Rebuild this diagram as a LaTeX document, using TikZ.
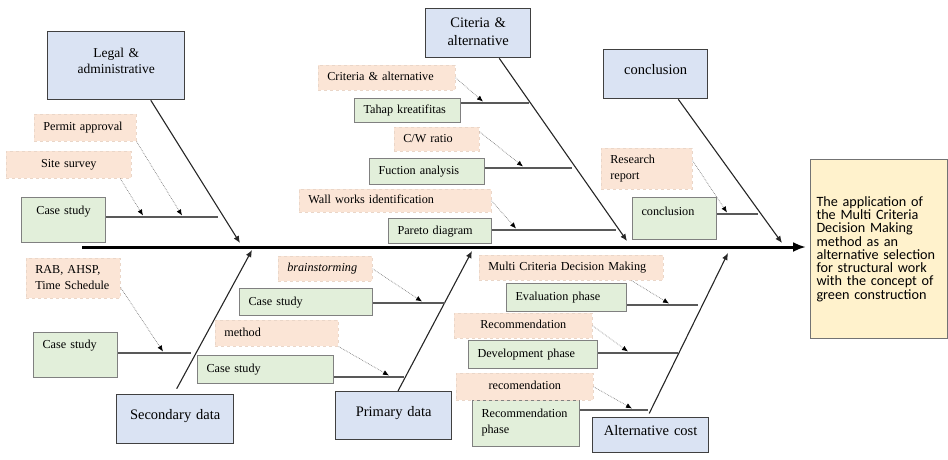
\documentclass[tikz,border=0pt]{standalone}
\usepackage{fontspec}
\setmainfont{Liberation Serif}
\newfontfamily\timesf{Liberation Serif}
\newfontfamily\carlito{Carlito}
\usetikzlibrary{arrows.meta}
\definecolor{headblue}{HTML}{DAE3F3}
\definecolor{subgreen}{HTML}{E2EFDA}
\definecolor{notepink}{HTML}{FBE5D6}
\definecolor{notepinkline}{HTML}{EAD6C8}
\definecolor{effectyellow}{HTML}{FFF2CC}
\tikzset{
  basebox/.style={anchor=north west, inner xsep=9pt, inner ysep=3pt, align=left,
    text height=9pt, text depth=3pt, font=\timesf\fontsize{12.2}{16}\selectfont},
  headbox/.style={basebox, fill=headblue, draw=black!75, line width=1.3pt, align=center,
    inner xsep=4pt, text height=11pt, text depth=10pt, font=\timesf\fontsize{14.5}{16}\selectfont},
  subbox/.style={basebox, fill=subgreen, draw=black!50, line width=1pt},
  notebox/.style={basebox, fill=notepink, draw=notepinkline, dashed, line width=0.6pt},
  effectbox/.style={anchor=north west, fill=effectyellow, draw=black!55, line width=1pt,
    inner xsep=6pt, align=left, font=\carlito\fontsize{14.2}{13.3}\selectfont},
  spine/.style={-{Latex[length=13pt,width=10pt]}, line width=3pt},
  bone/.style={-{Latex[length=7pt,width=6pt]}, line width=1.1pt, black!85},
  twig/.style={line width=1.4pt, black!65},
  hint/.style={-{Latex[length=6pt,width=5pt,color=black]}, densely dotted, line width=0.7pt, black!50}
}

\begin{document}
\begin{tikzpicture}[x=1pt,y=-1pt]
  \useasboundingbox (0,0) rectangle (948,459);

  \node[headbox, text width=129pt, minimum height=68pt, text depth=27pt,
    font=\timesf\fontsize{13.5}{16}\selectfont] (legal) at (47,31) {Legal \&\\administrative};
  \node[headbox, text width=97pt, minimum height=49pt, text depth=22pt,
    font=\timesf\fontsize{14.5}{18}\selectfont] (crit) at (425,8) {Citeria \&\\alternative};
  \node[headbox, text width=96pt, minimum height=49pt] (concl) at (603,49) {conclusion};
  \node[headbox, text width=109pt, minimum height=49pt] (second) at (116,394) {Secondary data};
  \node[headbox, text width=108pt, minimum height=48pt] (prim) at (335,391) {Primary data};
  \node[headbox, text width=108pt, minimum height=35pt] (altc) at (592,417) {Alternative cost};

  \node[effectbox, text width=125pt, minimum height=179pt] (effect) at (810,159)
    {The application of\\the Multi Criteria\\Decision Making\\method as an\\alternative selection\\for structural work\\with the concept of\\green construction};

  \node[subbox, text width=66pt, minimum height=45pt, align=center, text height=14pt, text depth=25pt] (caseLeg) at (21,197) {Case study};
  \node[subbox, text width=88pt, minimum height=24pt] (tahap) at (354,98) {Tahap kreatifitas};
  \node[subbox, text width=97pt, minimum height=26pt] (fuction) at (369,158) {Fuction analysis};
  \node[subbox, text width=85pt, minimum height=25pt] (pareto) at (388,218) {Pareto diagram};
  \node[subbox, text width=66pt, minimum height=42pt, text height=15pt, text depth=21pt] (conclSub) at (632,197) {conclusion};
  \node[subbox, text width=66pt, minimum height=45pt, text height=13pt, text depth=26pt] (caseSec) at (33,332) {Case study};
  \node[subbox, text width=115pt, minimum height=27pt] (caseBrain) at (239,288) {Case study};
  \node[subbox, text width=118pt, minimum height=28pt] (caseMeth) at (197,355) {Case study};
  \node[subbox, text width=102pt, minimum height=28pt] (evalPh) at (506,283) {Evaluation phase};
  \node[subbox, text width=111pt, minimum height=28pt] (devPh) at (468,340) {Development phase};
  \node[subbox, text width=89pt, minimum height=46pt, text height=14pt, text depth=26pt] (recPh) at (472,400) {Recommendation\\phase};

  \node[notebox, text width=84pt, minimum height=27pt] (permit) at (34,114) {Permit approval};
  \node[notebox, text width=107pt, minimum height=27pt, align=center] (site) at (6,151) {Site survey};
  \node[notebox, text width=119pt, minimum height=25pt] (critAlt) at (318,65) {Criteria \& alternative};
  \node[notebox, text width=67pt, minimum height=24pt] (cw) at (394,127) {C/W ratio};
  \node[notebox, text width=174pt, minimum height=23pt] (wall) at (299,189) {Wall works identification};
  \node[notebox, text width=73pt, minimum height=41pt, text depth=19pt] (research) at (601,148) {Research\\report};
  \node[notebox, text width=76pt, minimum height=40pt, text depth=18pt] (rab) at (26,258) {RAB, AHSP,\\Time Schedule};
  \node[notebox, text width=76pt, minimum height=25pt, font=\timesf\fontsize{12.2}{16}\selectfont\itshape] (brain) at (278,256) {brainstorming};
  \node[notebox, text width=105pt, minimum height=26pt] (method) at (215,320) {method};
  \node[notebox, text width=166pt, minimum height=25pt] (mcdm) at (479,255) {Multi Criteria Decision Making};
  \node[notebox, text width=120pt, minimum height=25pt, align=center] (recom) at (454,313) {Recommendation};
  \node[notebox, text width=119pt, minimum height=27pt, align=center] (recom2) at (456,373) {recomendation};

  \coordinate (tail) at (82,247);
  \coordinate (sLegal) at (240,243);
  \coordinate (sCrit) at (627,241);
  \coordinate (sConcl) at (782,243);
  \coordinate (sSec) at (252,250);
  \coordinate (sPrim) at (472,251);
  \coordinate (sAlt) at (728,253);

  \coordinate (twLeg) at (218,217);
  \coordinate (twTahap) at (529,103);
  \coordinate (twFuc) at (572,168);
  \coordinate (twPar) at (616,230);
  \coordinate (twConcl) at (758,214);
  \coordinate (twSec) at (191,353);
  \coordinate (twBrain) at (445,303);
  \coordinate (twMeth) at (404,377);
  \coordinate (twEval) at (698,305);
  \coordinate (twDev) at (678,353);
  \coordinate (twRec) at (648,410);

  \coordinate (hPermit) at (182,215.5);
  \coordinate (hSite) at (143,215.5);
  \coordinate (hCrit) at (483,101.5);
  \coordinate (hCw) at (523,166.5);
  \coordinate (hWall) at (516,228.5);
  \coordinate (hRes) at (727,212.5);
  \coordinate (hRab) at (163,351.5);
  \coordinate (hBrain) at (422,301.5);
  \coordinate (hMeth) at (389,375.5);
  \coordinate (hMcdm) at (669,303.5);
  \coordinate (hRec) at (628,351.5);
  \coordinate (hRec2) at (632,408.5);

  \draw[spine, shorten >=4pt] (tail) to (tail -| effect.west);

  \draw[bone] (legal.-45) to (sLegal);
  \draw[bone] (crit.-50) to (sCrit);
  \draw[bone] (concl.-48) to (sConcl);
  \draw[bone, shorten <=6pt] (second.93) to (sSec);
  \draw[bone] (prim.80) to (sPrim);
  \draw[bone, shorten <=4pt] (altc.100) to (sAlt);

  \draw[twig] (caseLeg.east |- twLeg) to (twLeg);
  \draw[twig] (tahap.east |- twTahap) to (twTahap);
  \draw[twig] (fuction.east |- twFuc) to (twFuc);
  \draw[twig] (pareto.east |- twPar) to (twPar);
  \draw[twig] (conclSub.east |- twConcl) to (twConcl);
  \draw[twig] (caseSec.east |- twSec) to (twSec);
  \draw[twig] (caseBrain.east |- twBrain) to (twBrain);
  \draw[twig] (caseMeth.east |- twMeth) to (twMeth);
  \draw[twig] (evalPh.east |- twEval) to (twEval);
  \draw[twig] (devPh.east |- twDev) to (twDev);
  \draw[twig] (recPh.east |- twRec) to (twRec);

  \draw[hint] (permit.south east) to (hPermit);
  \draw[hint] (site.-15) to (hSite);
  \draw[hint] (critAlt.east) to (hCrit);
  \draw[hint] (cw.10) to (hCw);
  \draw[hint] (wall.east) to (hWall);
  \draw[hint] (research.10) to (hRes);
  \draw[hint] (rab.-11) to (hRab);
  \draw[hint] (brain.east) to (hBrain);
  \draw[hint] (method.south east) to (hMeth);
  \draw[hint] (mcdm.-12) to (hMcdm);
  \draw[hint] (recom.east) to (hRec);
  \draw[hint] (recom2.east) to (hRec2);
\end{tikzpicture}
\end{document}
